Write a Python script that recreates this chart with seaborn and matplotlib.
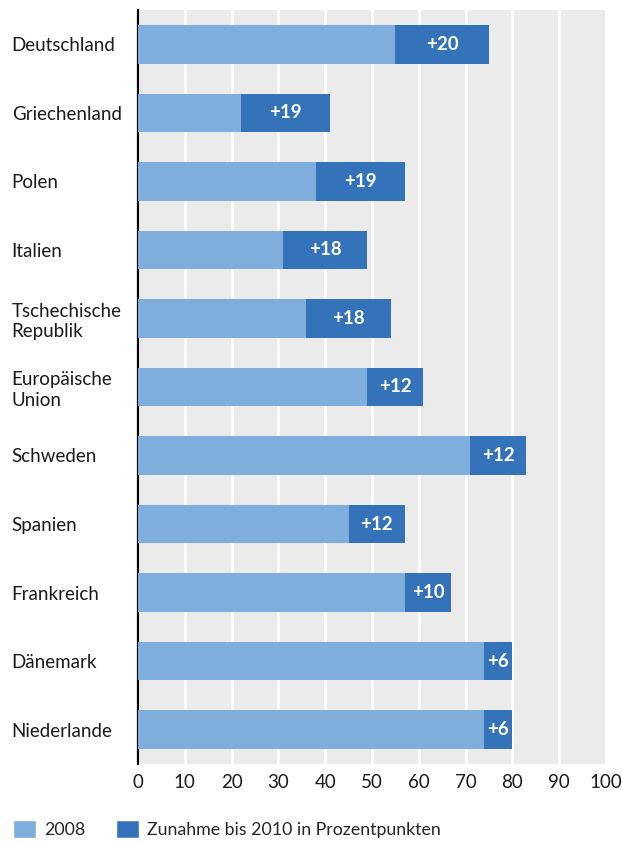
import matplotlib
matplotlib.use("Agg")
import matplotlib.pyplot as plt
from matplotlib.patches import Patch
import seaborn as sns
import pandas as pd

countries = ["Deutschland", "Griechenland", "Polen", "Italien",
             "Tschechische\nRepublik", "Europäische\nUnion", "Schweden",
             "Spanien", "Frankreich", "Dänemark", "Niederlande"]
share_2008 = [55, 22, 38, 31, 36, 49, 71, 45, 57, 74, 74]
increase = [20, 19, 19, 18, 18, 12, 12, 12, 10, 6, 6]
x_ticks = [0, 10, 20, 30, 40, 50, 60, 70, 80, 90, 100]

light = "#7faedd"
dark = "#3472b9"
fs = 13.5

df = pd.DataFrame({"land": countries, "y2008": share_2008, "plus": increase})
df["total"] = df["y2008"] + df["plus"]

sns.set_theme(style="darkgrid")
plt.rcParams["font.family"] = ["Lato", "DejaVu Sans"]

fig = plt.figure(figsize=(6.22, 8.44), dpi=100)
ax = fig.add_axes([0.222, 0.095, 0.752, 0.893])
ax.set_facecolor("#ebebeb")

sns.barplot(data=df, x="total", y="land", orient="h", color=dark,
            width=0.56, saturation=1, linewidth=0, ax=ax, zorder=2)
sns.barplot(data=df, x="y2008", y="land", orient="h", color=light,
            width=0.56, saturation=1, linewidth=0, ax=ax, zorder=3)

for i, row in df.iterrows():
    ax.text((row["y2008"] + row["total"]) / 2, i, f"+{row['plus']}",
            ha="center", va="center", color="white", fontsize=fs,
            fontweight="bold", zorder=4)

ax.set_xlim(0, 100)
ax.set_ylim(len(countries) - 0.5, -0.5)
ax.set_xticks(x_ticks)
ax.set_xticklabels([str(t) for t in x_ticks], fontsize=fs, color="#1a1a1a")
ax.grid(axis="x", color="white", linewidth=2)
ax.grid(axis="y", visible=False)
ax.set_axisbelow(True)
ax.set_xlabel("")
ax.set_ylabel("")
ax.tick_params(axis="both", length=0)
ax.tick_params(axis="x", pad=7)
ax.tick_params(axis="y", pad=91)
for lab in ax.get_yticklabels():
    lab.set_ha("left")
    lab.set_fontsize(fs)
    lab.set_color("#1a1a1a")
    lab.set_linespacing(1.25)

for side in ["top", "right", "bottom"]:
    ax.spines[side].set_visible(False)
ax.spines["left"].set_visible(True)
ax.spines["left"].set_color("black")
ax.spines["left"].set_linewidth(1.6)

handles = [Patch(facecolor=light, label="2008"),
           Patch(facecolor=dark, label="Zunahme bis 2010 in Prozentpunkten")]
fig.legend(handles=handles, loc="lower left", bbox_to_anchor=(0.015, 0.003),
           ncol=2, frameon=False, fontsize=12.8, handlelength=1.3,
           handleheight=1.15, handletextpad=0.45, columnspacing=1.75,
           borderaxespad=0, borderpad=0.2)

fig.savefig("out.png", dpi=100)
